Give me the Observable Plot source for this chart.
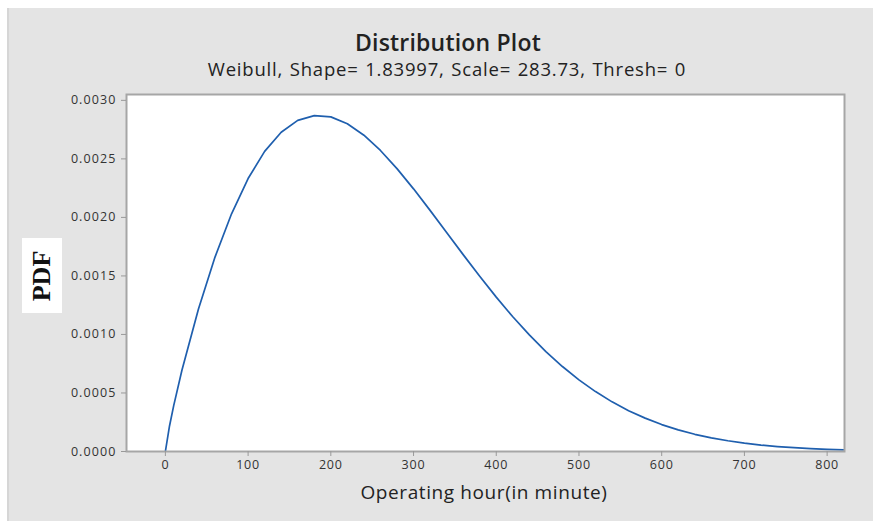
<!DOCTYPE html>
<html>
<head>
<meta charset="utf-8">
<script src="https://cdn.jsdelivr.net/npm/d3@7"></script>
<script src="https://cdn.jsdelivr.net/npm/@observablehq/plot@0.6"></script>
<style>
  html, body { margin: 0; padding: 0; background: #ffffff; }
  #page { position: relative; width: 873px; height: 521px; overflow: hidden; font-family: "Open Sans", "Noto Sans", sans-serif; }
  #panel { position: absolute; left: 7px; top: 8px; width: 866px; height: 513px; background: #e4e4e4; border-left: 2px solid #d6d6d6; box-sizing: border-box; }
  #title { position: absolute; left: 0; width: 896px; top: 26px; text-align: center; font-size: 23px; font-weight: 600; color: #222; letter-spacing: 0.2px; }
  #subtitle { position: absolute; left: 0; width: 894px; top: 56px; text-align: center; font-size: 18.5px; color: #222; letter-spacing: 0.8px; word-spacing: 1px; }
  #ylab { position: absolute; left: 22px; top: 238px; width: 40px; height: 75px; background: #ffffff; }
  #ylab span { position: absolute; left: 50%; top: 50%; transform: translate(-50%, -50%) rotate(-90deg); font-family: "Liberation Serif", "DejaVu Serif", serif; font-weight: bold; font-size: 26px; color: #111; white-space: nowrap; }
  #xlab { position: absolute; left: 0; width: 968px; top: 479px; text-align: center; font-size: 19px; color: #222; letter-spacing: 0.6px; }
  #chart { position: absolute; left: 0; top: 0; }
  #chart svg g[aria-label="y-axis tick label"] text { letter-spacing: 1.1px; }
  #chart svg g[aria-label="x-axis tick label"] text { letter-spacing: 0.8px; }
</style>
</head>
<body>
<div id="page">
  <div id="panel"></div>
  <div id="title">Distribution Plot</div>
  <div id="subtitle">Weibull, Shape= 1.83997, Scale= 283.73, Thresh= 0</div>
  <div id="chart"></div>
  <div id="ylab"><span>PDF</span></div>
  <div id="xlab">Operating hour(in minute)</div>
</div>
<script>
// Operating hour (minutes) sampled along the curve
const hours = [0, 5, 10, 20, 40, 60, 80, 100, 120, 140, 160, 180, 200, 220, 240, 260, 280, 300,
  320, 340, 360, 380, 400, 420, 440, 460, 480, 500, 520, 540, 560, 580, 600, 620, 640, 660,
  680, 700, 720, 740, 760, 780, 800, 820];
// PDF values
const pdf = [0, 0.000218, 0.000390, 0.000694, 0.001218, 0.001661, 0.002031, 0.002332, 0.002564,
  0.002728, 0.002829, 0.002870, 0.002859, 0.002800, 0.002702, 0.002572, 0.002417, 0.002244,
  0.002060, 0.001871, 0.001682, 0.001497, 0.001319, 0.001151, 0.000996, 0.000854, 0.000726,
  0.000612, 0.000512, 0.000424, 0.000349, 0.000285, 0.000230, 0.000185, 0.000147, 0.000117,
  0.0000916, 0.0000714, 0.0000552, 0.0000424, 0.0000323, 0.0000245, 0.0000184, 0.0000138];
const xTicks = [0, 100, 200, 300, 400, 500, 600, 700, 800];
const yTicks = [0, 0.0005, 0.0010, 0.0015, 0.0020, 0.0025, 0.0030];

const data = hours.map((h, i) => ({hour: h, pdf: pdf[i]}));

const chart = Plot.plot({
  width: 873,
  height: 521,
  marginLeft: 126,
  marginRight: 29,
  marginTop: 94,
  marginBottom: 70,
  style: {background: "transparent", fontFamily: "'Open Sans', 'Noto Sans', sans-serif", fontSize: "12px", color: "#333"},
  x: {domain: [-47, 821], label: null},
  y: {domain: [0, 0.00305], label: null},
  marks: [
    Plot.frame({fill: "white", stroke: "none"}),
    Plot.line(data, {x: "hour", y: "pdf", stroke: "#1f5fae", strokeWidth: 1.7, clip: true}),
    Plot.frame({stroke: "#a6a6a6", strokeWidth: 2}),
    Plot.axisX({ticks: xTicks, tickSize: 5, tickPadding: 4, stroke: "#999", tickFormat: d3.format("d"), label: null, fontSize: 12.5, fill: "#333"}),
    Plot.axisY({ticks: yTicks, tickSize: 5, tickPadding: 5, stroke: "#999", tickFormat: d3.format(".4f"), label: null, fontSize: 12.5, fill: "#333"})
  ]
});
document.getElementById("chart").appendChild(chart);
</script>
</body>
</html>
